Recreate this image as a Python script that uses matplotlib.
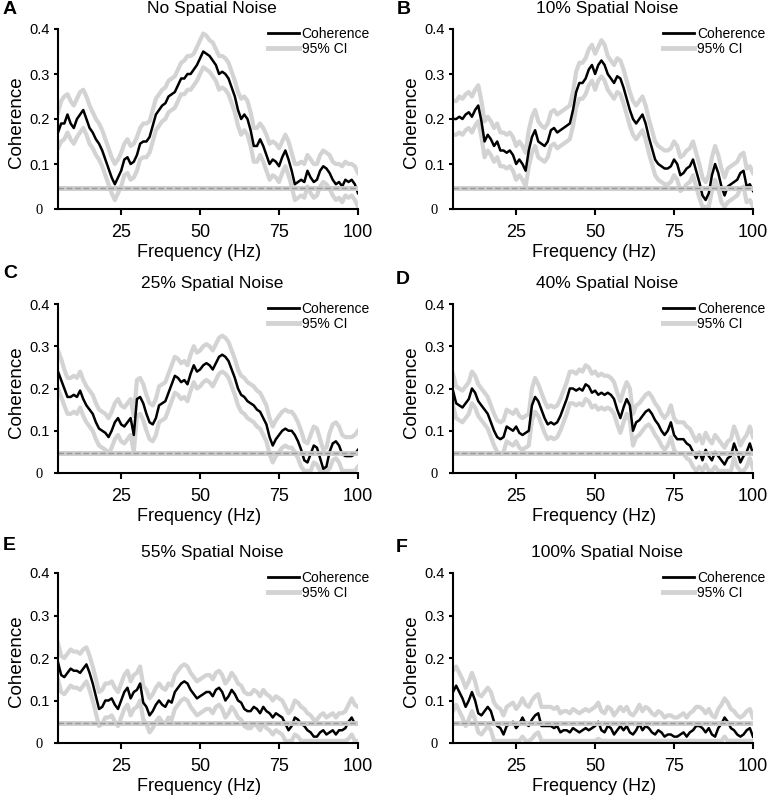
import numpy as np
import matplotlib.pyplot as plt
from matplotlib.lines import Line2D
from matplotlib.transforms import ScaledTranslation

plt.rcParams['font.family'] = ['Liberation Sans', 'DejaVu Sans']

# frequency bins (Hz)
freq = np.arange(5, 101)

letters = ['A', 'B', 'C', 'D', 'E', 'F']
titles = ['No Spatial Noise', '10% Spatial Noise', '25% Spatial Noise',
          '40% Spatial Noise', '55% Spatial Noise', '100% Spatial Noise']
sig_level = 0.047

# coherence and 95% CI bounds (units of 0.001)
coh_A = [170, 190, 190, 210, 190, 180, 200, 210, 220, 200,
         180, 170, 155, 145, 130, 110, 90, 70, 55, 70,
         85, 110, 115, 100, 105, 120, 145, 150, 150, 160,
         185, 210, 220, 230, 235, 250, 255, 260, 275, 290,
         290, 300, 300, 310, 320, 335, 350, 345, 340, 330,
         320, 300, 305, 300, 290, 270, 250, 220, 200, 210,
         200, 175, 140, 140, 155, 140, 120, 100, 110, 105,
         95, 115, 130, 110, 85, 55, 60, 65, 60, 85,
         70, 60, 65, 85, 95, 90, 80, 65, 55, 60,
         50, 65, 60, 65, 55, 35]
hi_A = [215, 240, 250, 255, 240, 230, 245, 260, 265, 250,
        230, 215, 200, 190, 175, 155, 135, 115, 100, 110,
        125, 145, 155, 140, 145, 160, 180, 190, 190, 195,
        220, 245, 255, 265, 270, 285, 290, 295, 310, 325,
        330, 340, 340, 345, 360, 375, 390, 385, 375, 370,
        355, 340, 340, 335, 325, 305, 285, 260, 245, 250,
        240, 215, 180, 180, 190, 180, 165, 145, 150, 145,
        135, 150, 165, 150, 125, 100, 100, 105, 100, 120,
        110, 100, 100, 120, 130, 125, 120, 105, 100, 100,
        95, 105, 100, 100, 95, 80]
lo_A = [135, 150, 155, 170, 155, 145, 160, 170, 180, 165,
        145, 135, 120, 110, 95, 75, 55, 35, 20, 35,
        50, 75, 80, 65, 70, 85, 110, 115, 115, 125,
        150, 175, 185, 195, 200, 215, 220, 225, 240, 255,
        255, 265, 265, 275, 285, 300, 315, 310, 305, 295,
        285, 265, 270, 265, 255, 235, 215, 185, 165, 175,
        165, 140, 105, 105, 120, 105, 85, 65, 75, 70,
        60, 80, 95, 75, 50, 20, 25, 30, 25, 50,
        35, 25, 30, 50, 60, 55, 45, 30, 20, 25,
        15, 30, 25, 30, 20, 5]

coh_B = [200, 200, 205, 200, 210, 215, 205, 220, 230, 195,
         150, 165, 155, 140, 150, 130, 130, 125, 130, 120,
         100, 110, 100, 85, 130, 160, 175, 150, 145, 140,
         150, 175, 180, 170, 175, 180, 185, 190, 220, 260,
         280, 280, 290, 310, 320, 300, 320, 330, 320, 300,
         290, 280, 295, 290, 270, 245, 220, 200, 190, 200,
         210, 190, 160, 135, 110, 100, 95, 90, 90, 95,
         110, 100, 75, 80, 90, 95, 110, 85, 60, 30,
         20, 35, 75, 100, 80, 50, 30, 50, 55, 60,
         65, 80, 85, 50, 55, 40]
hi_B = [240, 240, 250, 245, 255, 260, 250, 265, 275, 240,
        195, 205, 195, 180, 190, 170, 170, 165, 170, 160,
        140, 150, 140, 125, 175, 205, 220, 195, 185, 180,
        190, 215, 220, 210, 215, 220, 225, 230, 260, 305,
        325, 325, 335, 355, 365, 345, 360, 375, 365, 340,
        330, 320, 335, 330, 310, 285, 260, 240, 230, 240,
        250, 230, 200, 175, 150, 140, 135, 130, 130, 135,
        150, 140, 115, 120, 130, 135, 150, 125, 100, 70,
        60, 75, 115, 140, 120, 90, 70, 90, 95, 100,
        105, 120, 125, 90, 95, 80]
lo_B = [165, 165, 170, 165, 175, 180, 170, 185, 195, 160,
        115, 130, 120, 105, 115, 95, 95, 90, 95, 85,
        65, 75, 65, 50, 95, 125, 140, 115, 110, 105,
        115, 140, 145, 135, 140, 145, 150, 155, 185, 225,
        245, 245, 255, 275, 285, 265, 285, 295, 285, 265,
        255, 245, 260, 255, 235, 210, 185, 165, 155, 165,
        175, 155, 125, 100, 75, 65, 60, 55, 55, 60,
        75, 65, 40, 45, 55, 60, 75, 50, 25, 5,
        5, 5, 40, 65, 45, 15, 5, 15, 20, 25,
        30, 45, 50, 15, 20, 5]

coh_C = [240, 220, 200, 180, 180, 185, 180, 195, 175, 160,
         150, 140, 120, 105, 100, 95, 85, 100, 120, 130,
         115, 110, 120, 130, 90, 175, 180, 165, 140, 120,
         115, 130, 160, 165, 170, 190, 210, 230, 225, 215,
         220, 210, 235, 255, 240, 245, 255, 260, 255, 245,
         260, 275, 280, 275, 265, 245, 225, 200, 185, 180,
         170, 165, 160, 150, 145, 130, 115, 85, 65, 80,
         90, 100, 105, 100, 100, 90, 75, 55, 30, 25,
         45, 65, 60, 35, 10, 15, 50, 70, 75, 65,
         45, 40, 40, 40, 45, 55]
hi_C = [290, 270, 245, 225, 225, 230, 225, 240, 220, 205,
        195, 185, 165, 150, 145, 140, 130, 145, 165, 175,
        160, 155, 165, 175, 135, 220, 225, 210, 185, 165,
        160, 175, 205, 210, 215, 235, 255, 275, 270, 260,
        265, 255, 280, 300, 285, 290, 300, 305, 300, 290,
        305, 320, 325, 320, 310, 290, 270, 245, 230, 225,
        215, 210, 205, 195, 190, 175, 160, 130, 110, 125,
        135, 145, 150, 145, 145, 135, 120, 100, 75, 70,
        90, 110, 105, 80, 55, 60, 95, 115, 120, 110,
        90, 85, 85, 85, 90, 100]
lo_C = [200, 180, 160, 140, 140, 145, 140, 155, 135, 120,
        110, 100, 80, 65, 60, 55, 45, 60, 80, 90,
        75, 70, 80, 90, 50, 135, 140, 125, 100, 80,
        75, 90, 120, 125, 130, 150, 170, 190, 185, 175,
        180, 170, 195, 215, 200, 205, 215, 220, 215, 205,
        220, 235, 240, 235, 225, 205, 185, 160, 145, 140,
        130, 125, 120, 110, 105, 90, 75, 45, 25, 40,
        50, 60, 65, 60, 60, 50, 35, 15, 5, 5,
        5, 25, 20, 5, 5, 5, 10, 30, 35, 25,
        5, 5, 5, 5, 5, 15]

coh_D = [195, 165, 160, 155, 165, 175, 200, 190, 170, 160,
         150, 140, 120, 100, 85, 80, 85, 110, 105, 100,
         110, 95, 90, 95, 100, 160, 180, 170, 150, 130,
         115, 120, 115, 120, 135, 155, 175, 200, 200, 195,
         200, 195, 210, 205, 190, 195, 185, 190, 185, 190,
         185, 175, 150, 130, 155, 175, 160, 100, 120, 125,
         135, 145, 150, 140, 125, 115, 100, 90, 100, 120,
         90, 80, 80, 80, 70, 65, 50, 35, 50, 30,
         55, 40, 30, 50, 40, 30, 20, 35, 40, 70,
         50, 25, 40, 50, 70, 45]
hi_D = [235, 205, 200, 195, 205, 215, 240, 230, 210, 200,
        190, 180, 160, 140, 125, 120, 125, 150, 145, 140,
        150, 135, 130, 135, 140, 200, 225, 210, 190, 170,
        155, 160, 155, 160, 175, 195, 215, 240, 240, 235,
        245, 240, 255, 250, 235, 240, 230, 235, 230, 230,
        225, 215, 190, 170, 195, 215, 200, 140, 160, 165,
        175, 185, 190, 180, 165, 155, 140, 130, 140, 160,
        130, 120, 120, 120, 110, 105, 90, 75, 90, 70,
        95, 80, 70, 90, 80, 70, 60, 75, 80, 110,
        90, 65, 80, 90, 110, 85]
lo_D = [160, 130, 125, 120, 130, 140, 165, 155, 135, 125,
        115, 105, 85, 65, 50, 45, 50, 75, 70, 65,
        75, 60, 55, 60, 65, 125, 145, 135, 115, 95,
        80, 85, 80, 85, 100, 120, 140, 165, 165, 160,
        165, 160, 175, 170, 155, 160, 150, 155, 150, 155,
        150, 140, 115, 95, 120, 140, 125, 65, 85, 90,
        100, 110, 115, 105, 90, 80, 65, 55, 65, 85,
        55, 45, 45, 45, 35, 30, 15, 5, 15, 5,
        20, 5, 5, 15, 5, 5, 5, 5, 5, 35,
        15, 5, 5, 15, 35, 10]

coh_E = [190, 160, 155, 165, 175, 170, 170, 165, 175, 185,
         165, 140, 110, 80, 85, 100, 100, 105, 90, 80,
         100, 120, 130, 105, 120, 125, 140, 95, 85, 65,
         75, 90, 100, 90, 85, 100, 95, 120, 130, 140,
         145, 140, 125, 115, 105, 110, 115, 120, 120, 110,
         125, 130, 120, 100, 110, 125, 115, 100, 95, 80,
         75, 75, 85, 80, 70, 85, 75, 70, 60, 70,
         65, 60, 45, 30, 40, 60, 55, 45, 40, 30,
         25, 15, 15, 25, 30, 20, 25, 30, 20, 30,
         30, 35, 50, 60, 45, 45]
hi_E = [235, 205, 200, 210, 220, 215, 215, 210, 220, 225,
        205, 180, 150, 120, 125, 140, 140, 145, 130, 120,
        140, 160, 170, 145, 160, 165, 180, 135, 125, 105,
        115, 130, 140, 130, 125, 140, 135, 160, 170, 180,
        185, 180, 165, 155, 145, 150, 155, 160, 160, 150,
        165, 170, 160, 140, 150, 165, 155, 140, 135, 120,
        115, 115, 125, 120, 110, 125, 115, 110, 100, 110,
        105, 100, 85, 70, 80, 100, 95, 85, 80, 70,
        65, 55, 55, 65, 70, 60, 65, 70, 60, 70,
        70, 75, 90, 105, 90, 85]
lo_E = [150, 120, 115, 125, 135, 130, 130, 125, 135, 145,
        125, 100, 70, 40, 45, 60, 60, 65, 50, 40,
        60, 80, 90, 65, 80, 85, 100, 55, 45, 25,
        35, 50, 60, 50, 45, 60, 55, 80, 90, 100,
        105, 100, 85, 75, 65, 70, 75, 80, 80, 70,
        85, 90, 80, 60, 70, 85, 75, 60, 55, 40,
        35, 35, 45, 40, 30, 45, 35, 30, 20, 30,
        25, 20, 5, 5, 5, 20, 15, 5, 5, 5,
        5, 5, 5, 5, 5, 5, 5, 5, 5, 5,
        5, 5, 10, 20, 5, 5]

coh_F = [120, 135, 120, 105, 85, 100, 120, 100, 70, 65,
         75, 85, 75, 50, 40, 35, 20, 40, 45, 50,
         35, 45, 60, 45, 40, 55, 65, 70, 40, 40,
         40, 40, 35, 40, 25, 30, 30, 25, 35, 30,
         25, 30, 35, 30, 35, 40, 50, 30, 25, 40,
         35, 20, 30, 40, 30, 40, 25, 20, 30, 45,
         30, 40, 35, 25, 20, 30, 25, 15, 20, 20,
         15, 15, 20, 25, 15, 25, 30, 40, 40, 35,
         25, 35, 20, 15, 35, 45, 60, 50, 35, 30,
         20, 15, 20, 30, 35, 15]
hi_F = [170, 180, 165, 150, 130, 145, 165, 145, 115, 110,
        120, 130, 120, 95, 85, 80, 65, 85, 90, 95,
        80, 90, 105, 90, 85, 100, 110, 115, 85, 85,
        85, 85, 80, 85, 70, 75, 75, 70, 80, 75,
        70, 75, 80, 75, 80, 85, 95, 75, 70, 85,
        80, 65, 75, 85, 75, 85, 70, 65, 75, 90,
        75, 85, 80, 70, 65, 75, 70, 60, 65, 65,
        60, 60, 65, 70, 60, 70, 75, 85, 85, 80,
        70, 80, 65, 60, 80, 90, 105, 95, 80, 75,
        65, 60, 65, 75, 80, 60]
lo_F = [75, 90, 75, 60, 40, 55, 75, 55, 25, 20,
        30, 40, 30, 5, 5, 5, 5, 5, 5, 5,
        5, 5, 15, 5, 5, 10, 20, 25, 5, 5,
        5, 5, 5, 5, 5, 5, 5, 5, 5, 5,
        5, 5, 5, 5, 5, 5, 10, 5, 5, 5,
        5, 5, 5, 5, 5, 5, 5, 5, 5, 5,
        5, 5, 5, 5, 5, 5, 5, 5, 5, 5,
        5, 5, 5, 5, 5, 5, 5, 5, 5, 5,
        5, 5, 5, 5, 5, 5, 15, 5, 5, 5,
        5, 5, 5, 5, 5, 5]

coh_all = [coh_A, coh_B, coh_C, coh_D, coh_E, coh_F]
hi_all = [hi_A, hi_B, hi_C, hi_D, hi_E, hi_F]
lo_all = [lo_A, lo_B, lo_C, lo_D, lo_E, lo_F]

W, H = 768, 800
fig = plt.figure(figsize=(W / 100, H / 100), dpi=100)

# axes boxes in pixels: left, top, width, height
boxes = [(58, 29, 300, 180), (453, 29, 300, 180),
         (58, 304, 300, 169), (453, 304, 300, 169),
         (58, 573, 300, 170), (453, 573, 300, 170)]
letter_pos = [(3, 10), (397, 10), (3, 274), (396, 280), (3, 546), (396, 547)]

ci_col = '#d3d3d3'

for i in range(6):
    l, t, w, h = boxes[i]
    ax = fig.add_axes([l / W, 1 - (t + h) / H, w / W, h / H])
    coh = np.array(coh_all[i]) / 1000
    hi = np.array(hi_all[i]) / 1000
    lo = np.array(lo_all[i]) / 1000

    ax.plot(freq, hi, color=ci_col, lw=3)
    ax.plot(freq, lo, color=ci_col, lw=3)
    ax.plot(freq, coh, color='black', lw=1.8)
    ax.axhline(sig_level, color='#cccccc', lw=3.5)
    ax.axhline(sig_level, color='#999999', lw=1.0, dashes=(4, 2))

    ax.set_xlim(5, 100)
    ax.set_ylim(0, 0.4)
    ax.set_xticks([25, 50, 75, 100])
    ax.set_yticks([0, 0.1, 0.2, 0.3, 0.4], ['0', '0.1', '0.2', '0.3', '0.4'])
    for s in ['top', 'right']:
        ax.spines[s].set_visible(False)
    for s in ['left', 'bottom']:
        ax.spines[s].set_linewidth(1.5)
    ax.tick_params(axis='x', direction='out', length=4, width=1.5, pad=7, labelsize=13)
    ax.tick_params(axis='y', direction='out', length=3, width=1.5, pad=3, labelsize=10.5)
    zero = ax.get_yticklabels()[0]
    zero.set_fontfamily('Liberation Serif')
    zero.set_transform(zero.get_transform() + ScaledTranslation(-5 / 72, 0, fig.dpi_scale_trans))

    ax.set_ylabel('Coherence', fontsize=13.5)
    ax.yaxis.set_label_coords(-33 / w, 0.48)
    ax.set_xlabel('Frequency (Hz)', fontsize=13)
    ax.xaxis.set_label_coords(0.47, -35 / h)

    ax.annotate(titles[i], xy=(0.5, 1), xycoords='axes fraction',
                xytext=(3, 14.5), textcoords='offset points',
                ha='center', va='center', fontsize=12.5)

    handles = [Line2D([], [], color='black', lw=2),
               Line2D([], [], color=ci_col, lw=3.5)]
    ax.legend(handles, ['Coherence', '95% CI'], loc='upper right',
              bbox_to_anchor=(1.04, 1.01), frameon=False, fontsize=10,
              handlelength=2.2, handletextpad=0.2, labelspacing=0.05,
              borderpad=0, borderaxespad=0)

    lx, ly = letter_pos[i]
    fig.text(lx / W, 1 - ly / H, letters[i], fontsize=14, fontweight='bold',
             ha='left', va='center')

fig.savefig('out.png', dpi=100)
